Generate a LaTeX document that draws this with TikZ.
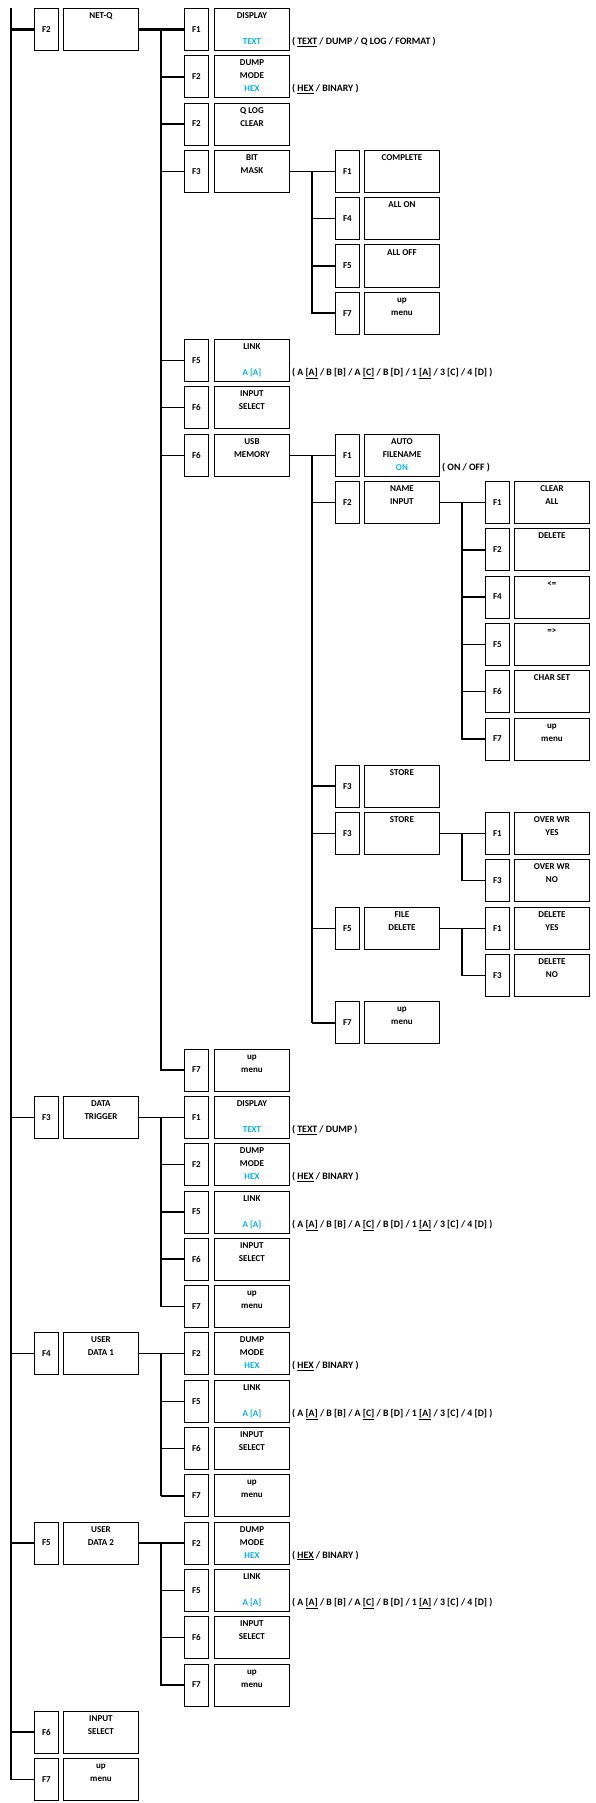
\documentclass[tikz,border=0pt]{standalone}
\usepackage{fontspec}
\setmainfont{Carlito}
\usetikzlibrary{calc}
\definecolor{hl}{RGB}{0,176,240}
\tikzset{
  keybox/.style={draw, line width=0.9pt, anchor=north west, minimum width=24pt, minimum height=42pt, inner sep=0pt},
  labbox/.style={draw, line width=0.9pt, anchor=north west, minimum width=75pt, minimum height=42pt, inner sep=0pt},
  txt/.style={anchor=base, inner sep=0pt},
  note/.style={anchor=base west, inner sep=0pt, font=\bfseries\fontsize{9.8}{11}\selectfont},
  conn/.style={line width=1.2pt},
  thk/.style={line width=2.2pt},
}
\newcommand\Ln[4]{\if\relax\detokenize{#4}\relax\else\node[txt] (#1) at ($(#2)+(0,#3)$) {#4};\fi}
\newcommand\Row[7]{%
  \pgfmathsetmacro\ty{8+#2*47.3}%
  \pgfmathsetmacro\kx{{34,184,335,485}[#3]}%
  \pgfmathsetmacro\lx{{63,214,364,514}[#3]}%
  \node[keybox] (k#1) at (\kx,\ty) {#4};%
  \node[labbox] (#1) at (\lx,\ty) {};%
  \Ln{#1a}{#1.north}{10.5}{#5}%
  \Ln{#1b}{#1.north}{23.5}{#6}%
  \Ln{#1c}{#1.north}{36.5}{#7}%
}
\newcommand\Note[2]{\node[note] (#1n) at ($(#1.north east)+(2,36.5)$) {#2};}
\newcommand\linknote{( A \underline{[A]} / B [B] / A \underline{[C]} / B [D] / 1 \underline{[A]} / 3 [C] / 4 [D] )}
\newcommand\hexnote{( \underline{HEX} / BINARY )}
\newcommand\hl[1]{\textcolor{hl}{#1}}
\begin{document}
\begin{tikzpicture}[x=1pt,y=-1pt,font=\bfseries\fontsize{9}{11}\selectfont]
\useasboundingbox (0,0) rectangle (596,1803);
% level 0
\Row{netq}{0}{0}{F2}{NET-Q}{}{}
\Row{dtrig}{23}{0}{F3}{DATA}{TRIGGER}{}
\Row{ud1}{28}{0}{F4}{USER}{DATA 1}{}
\Row{ud2}{32}{0}{F5}{USER}{DATA 2}{}
\Row{insel}{36}{0}{F6}{INPUT}{SELECT}{}
\Row{upm}{37}{0}{F7}{up}{menu}{}
% NET-Q children
\Row{nq1}{0}{1}{F1}{DISPLAY}{}{\hl{TEXT}}
\Row{nq2}{1}{1}{F2}{DUMP}{MODE}{\hl{HEX}}
\Row{nq3}{2}{1}{F2}{Q LOG}{CLEAR}{}
\Row{nq4}{3}{1}{F3}{BIT}{MASK}{}
\Row{nq5}{7}{1}{F5}{LINK}{}{\hl{A [A]}}
\Row{nq6}{8}{1}{F6}{INPUT}{SELECT}{}
\Row{nq7}{9}{1}{F6}{USB}{MEMORY}{}
\Row{nq8}{22}{1}{F7}{up}{menu}{}
% BIT MASK children
\Row{bm1}{3}{2}{F1}{COMPLETE}{}{}
\Row{bm2}{4}{2}{F4}{ALL ON}{}{}
\Row{bm3}{5}{2}{F5}{ALL OFF}{}{}
\Row{bm4}{6}{2}{F7}{up}{menu}{}
% USB MEMORY children
\Row{us1}{9}{2}{F1}{AUTO}{FILENAME}{\hl{ON}}
\Row{us2}{10}{2}{F2}{NAME}{INPUT}{}
\Row{us3}{16}{2}{F3}{STORE}{}{}
\Row{us4}{17}{2}{F3}{STORE}{}{}
\Row{us5}{19}{2}{F5}{FILE}{DELETE}{}
\Row{us6}{21}{2}{F7}{up}{menu}{}
% NAME INPUT children
\Row{ni1}{10}{3}{F1}{CLEAR}{ALL}{}
\Row{ni2}{11}{3}{F2}{DELETE}{}{}
\Row{ni3}{12}{3}{F4}{<=}{}{}
\Row{ni4}{13}{3}{F5}{=>}{}{}
\Row{ni5}{14}{3}{F6}{CHAR SET}{}{}
\Row{ni6}{15}{3}{F7}{up}{menu}{}
% STORE children
\Row{st1}{17}{3}{F1}{OVER WR}{YES}{}
\Row{st2}{18}{3}{F3}{OVER WR}{NO}{}
% FILE DELETE children
\Row{fd1}{19}{3}{F1}{DELETE}{YES}{}
\Row{fd2}{20}{3}{F3}{DELETE}{NO}{}
% DATA TRIGGER children
\Row{dt1}{23}{1}{F1}{DISPLAY}{}{\hl{TEXT}}
\Row{dt2}{24}{1}{F2}{DUMP}{MODE}{\hl{HEX}}
\Row{dt3}{25}{1}{F5}{LINK}{}{\hl{A [A]}}
\Row{dt4}{26}{1}{F6}{INPUT}{SELECT}{}
\Row{dt5}{27}{1}{F7}{up}{menu}{}
% USER DATA 1 children
\Row{ua1}{28}{1}{F2}{DUMP}{MODE}{\hl{HEX}}
\Row{ua2}{29}{1}{F5}{LINK}{}{\hl{A [A]}}
\Row{ua3}{30}{1}{F6}{INPUT}{SELECT}{}
\Row{ua4}{31}{1}{F7}{up}{menu}{}
% USER DATA 2 children
\Row{ub1}{32}{1}{F2}{DUMP}{MODE}{\hl{HEX}}
\Row{ub2}{33}{1}{F5}{LINK}{}{\hl{A [A]}}
\Row{ub3}{34}{1}{F6}{INPUT}{SELECT}{}
\Row{ub4}{35}{1}{F7}{up}{menu}{}
% notes
\Note{nq1}{( \underline{TEXT} / DUMP / Q LOG / FORMAT )}
\Note{nq2}{\hexnote}
\Note{nq5}{\linknote}
\Note{us1}{( ON / OFF )}
\Note{dt1}{( \underline{TEXT} / DUMP )}
\Note{dt2}{\hexnote}
\Note{dt3}{\linknote}
\Note{ua1}{\hexnote}
\Note{ua2}{\linknote}
\Note{ub1}{\hexnote}
\Note{ub2}{\linknote}
% trunk coordinates
\coordinate (tr0) at (11,8);
\coordinate (tr1) at (161,0);
\coordinate (tr2) at (312,0);
\coordinate (tr3) at (462,0);
% level 0 trunk
\draw[conn] (tr0) |- (kupm.west);
\draw[thk] (tr0 |- knetq.west) -- (knetq.west);
\foreach \c in {dtrig,ud1,ud2} \draw[conn] (tr0 |- k\c.west) -- (k\c.west);
\draw[thk] (tr0 |- kinsel.west) -- (kinsel.west);
% NET-Q
\draw[thk] (netq.east) -- (netq.east -| tr1) -- (knq1.west);
\draw[conn] (netq.east -| tr1) |- (knq8.west);
\draw[thk] (tr1 |- knq2.west) -- (knq2.west);
\foreach \c in {nq3,nq4,nq5,nq6,nq7} \draw[conn] (tr1 |- k\c.west) -- (k\c.west);
% BIT MASK
\draw[conn] (nq4.east) -- (nq4.east -| tr2) -- (kbm1.west);
\draw[conn] (nq4.east -| tr2) |- (kbm4.west);
\draw[conn] (tr2 |- kbm2.west) -- (kbm2.west);
\draw[thk] (tr2 |- kbm3.west) -- (kbm3.west);
\draw[thk] (tr2 |- kbm4.west) -- (kbm4.west);
% USB MEMORY
\draw[conn] (nq7.east) -- (nq7.east -| tr2) -- (kus1.west);
\draw[conn] (nq7.east -| tr2) |- (kus6.west);
\foreach \c in {us2,us4,us5} \draw[conn] (tr2 |- k\c.west) -- (k\c.west);
\draw[thk] (tr2 |- kus3.west) -- (kus3.west);
\draw[thk] (tr2 |- kus6.west) -- (kus6.west);
% NAME INPUT
\draw[conn] (us2.east) -- (us2.east -| tr3) -- (kni1.west);
\draw[conn] (us2.east -| tr3) |- (kni6.west);
\draw[thk] (tr3 |- kni2.west) -- (kni2.west);
\foreach \c in {ni3,ni4,ni5} \draw[conn] (tr3 |- k\c.west) -- (k\c.west);
% STORE
\draw[conn] (us4.east) -- (us4.east -| tr3) -- (kst1.west);
\draw[conn] (us4.east -| tr3) |- (kst2.west);
% FILE DELETE
\draw[conn] (us5.east) -- (us5.east -| tr3) -- (kfd1.west);
\draw[conn] (us5.east -| tr3) |- (kfd2.west);
% DATA TRIGGER
\draw[conn] (dtrig.east) -- (dtrig.east -| tr1) -- (kdt1.west);
\draw[conn] (dtrig.east -| tr1) |- (kdt5.west);
\foreach \c in {dt2,dt3} \draw[conn] (tr1 |- k\c.west) -- (k\c.west);
\draw[thk] (tr1 |- kdt4.west) -- (kdt4.west);
% USER DATA 1
\draw[conn] (ud1.east) -- (ud1.east -| tr1) -- (kua1.west);
\draw[conn] (ud1.east -| tr1) |- (kua4.west);
\foreach \c in {ua2,ua3} \draw[conn] (tr1 |- k\c.west) -- (k\c.west);
\draw[thk] (tr1 |- kua4.west) -- (kua4.west);
% USER DATA 2
\draw[conn] (ud2.east) -- (ud2.east -| tr1) -- (kub1.west);
\draw[conn] (ud2.east -| tr1) |- (kub4.west);
\foreach \c in {ub2,ub3} \draw[conn] (tr1 |- k\c.west) -- (k\c.west);
\end{tikzpicture}
\end{document}
